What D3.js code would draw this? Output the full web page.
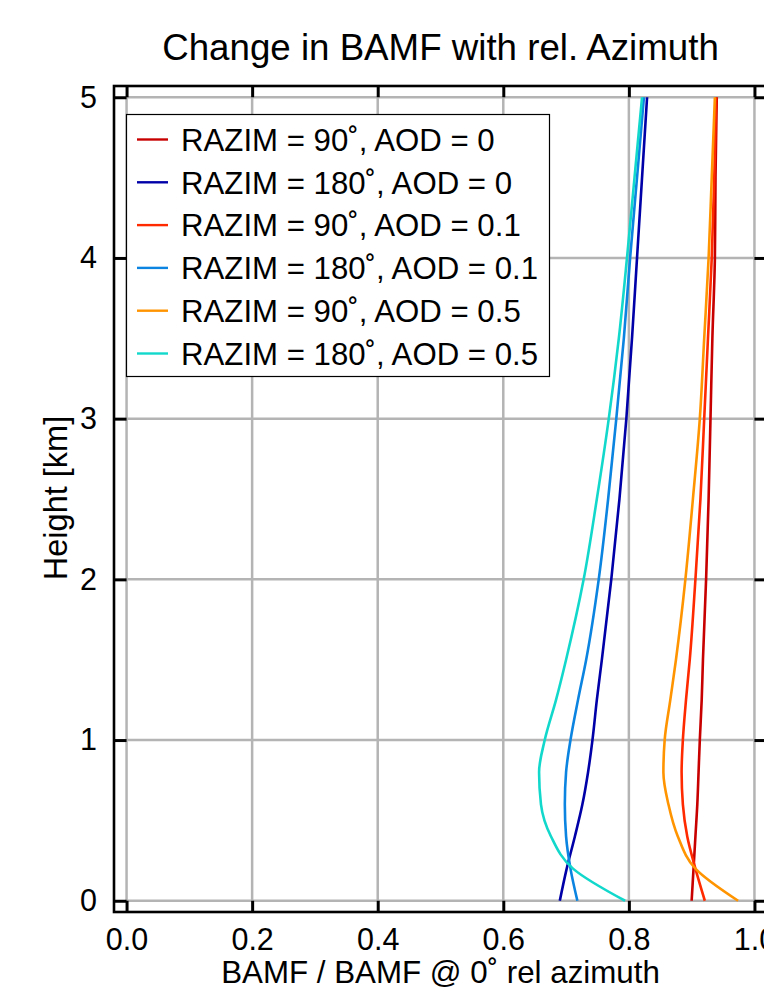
<!DOCTYPE html>
<html>
<head>
<meta charset="utf-8">
<script src="https://cdn.jsdelivr.net/npm/d3@7"></script>
<style>
  body { margin: 0; background: #fff; }
  text { font-family: "Liberation Sans", Arial, Helvetica, sans-serif; fill: #000; }
</style>
</head>
<body>
<div id="chart"></div>
<script>
// heights [km] shared by all profiles
var heights = [0, 0.2, 0.4, 0.6, 0.8, 1.0, 1.25, 1.5, 2, 2.5, 3, 3.5, 4, 4.5, 5];

// BAMF ratio vs 0 deg rel. azimuth
var razim90aod0   = [0.900, 0.903, 0.906, 0.909, 0.911, 0.913, 0.916, 0.918, 0.923, 0.927, 0.930, 0.933, 0.937, 0.938, 0.940];
var razim180aod0  = [0.690, 0.701, 0.714, 0.726, 0.735, 0.742, 0.749, 0.757, 0.772, 0.785, 0.796, 0.805, 0.813, 0.821, 0.829];
var razim90aod01  = [0.921, 0.906, 0.893, 0.886, 0.884, 0.886, 0.891, 0.897, 0.906, 0.914, 0.920, 0.926, 0.932, 0.936, 0.939];
var razim180aod01 = [0.718, 0.707, 0.700, 0.698, 0.700, 0.707, 0.719, 0.732, 0.752, 0.767, 0.780, 0.792, 0.802, 0.813, 0.824];
var razim90aod05  = [0.974, 0.906, 0.878, 0.863, 0.855, 0.857, 0.866, 0.875, 0.890, 0.902, 0.913, 0.920, 0.927, 0.932, 0.937];
var razim180aod05 = [0.794, 0.711, 0.676, 0.660, 0.657, 0.666, 0.684, 0.700, 0.728, 0.749, 0.768, 0.784, 0.797, 0.809, 0.821];

var seriesNames = ["RAZIM = 90˚, AOD = 0", "RAZIM = 180˚, AOD = 0",
                   "RAZIM = 90˚, AOD = 0.1", "RAZIM = 180˚, AOD = 0.1",
                   "RAZIM = 90˚, AOD = 0.5", "RAZIM = 180˚, AOD = 0.5"];
var seriesColors = ["#c80000", "#0000a8", "#ff2a00", "#0a84e0", "#ff9400", "#12d8cc"];
var seriesValues = [razim90aod0, razim180aod0, razim90aod01, razim180aod01, razim90aod05, razim180aod05];

var xTicks = [0, 0.2, 0.4, 0.6, 0.8, 1.0];
var yTicks = [0, 1, 2, 3, 4, 5];

var svg = d3.select("#chart").append("svg")
    .attr("width", 764)
    .attr("height", 989);

var frame = {left: 114, top: 86, right: 767, bottom: 912};

var x = d3.scaleLinear().domain([-0.02, 1.02]).range([frame.left, frame.right]),
    y = d3.scaleLinear().domain([-0.07, 5.07]).range([frame.bottom, frame.top]);

// grid
var grid = svg.append("g").attr("class", "grid")
    .attr("stroke", "#b4b4b4").attr("stroke-width", 2.5);
grid.selectAll("line.v").data(xTicks).enter().append("line")
    .attr("x1", function(d) { return x(d); }).attr("x2", function(d) { return x(d); })
    .attr("y1", y(0)).attr("y2", y(5));
grid.selectAll("line.h").data(yTicks).enter().append("line")
    .attr("y1", function(d) { return y(d); }).attr("y2", function(d) { return y(d); })
    .attr("x1", x(0)).attr("x2", x(1));

// profiles
var line = d3.line()
    .curve(d3.curveMonotoneY)
    .x(function(d) { return x(d[0]); })
    .y(function(d) { return y(d[1]); });

svg.append("g").attr("class", "profiles")
  .selectAll("path").data(seriesValues).enter().append("path")
    .attr("fill", "none")
    .attr("stroke", function(d, i) { return seriesColors[i]; })
    .attr("stroke-width", 2.6)
    .attr("stroke-linejoin", "round")
    .attr("d", function(vals) {
      return line(vals.map(function(v, j) { return [v, heights[j]]; }));
    });

// axes (ticks pointing inward)
function styleAxis(g) {
  g.select(".domain").remove();
  g.selectAll(".tick line").attr("stroke", "#000").attr("stroke-width", 3);
  g.selectAll(".tick text").style("font-size", "30.5px").attr("fill", "#000");
}

svg.append("g")
    .attr("transform", "translate(0," + frame.bottom + ")")
    .call(d3.axisBottom(x).tickValues(xTicks).tickFormat(d3.format(".1f"))
      .tickSizeInner(-(frame.bottom - y(0))).tickSizeOuter(0).tickPadding(16))
    .call(styleAxis);

svg.append("g")
    .attr("transform", "translate(0," + frame.top + ")")
    .call(d3.axisTop(x).tickValues(xTicks).tickFormat("")
      .tickSizeInner(-(y(5) - frame.top)).tickSizeOuter(0))
    .call(styleAxis);

svg.append("g")
    .attr("transform", "translate(" + frame.left + ",0)")
    .call(d3.axisLeft(y).tickValues(yTicks).tickFormat(d3.format("d"))
      .tickSizeInner(-(x(0) - frame.left)).tickSizeOuter(0).tickPadding(17))
    .call(styleAxis);

svg.append("g")
    .attr("transform", "translate(" + frame.right + ",0)")
    .call(d3.axisRight(y).tickValues(yTicks).tickFormat("")
      .tickSizeInner(-(frame.right - x(1))).tickSizeOuter(0))
    .call(styleAxis);

svg.append("rect")
    .attr("x", frame.left).attr("y", frame.top)
    .attr("width", frame.right - frame.left).attr("height", frame.bottom - frame.top)
    .attr("fill", "none").attr("stroke", "#000").attr("stroke-width", 2.6);

// legend
var legend = svg.append("g").attr("class", "legend");
legend.append("rect")
    .attr("x", 126.5).attr("y", 114.5).attr("width", 423).attr("height", 262)
    .attr("fill", "#fff").attr("stroke", "#000").attr("stroke-width", 1.2);
var item = legend.selectAll("g.item").data(seriesNames).enter().append("g")
    .attr("transform", function(d, i) { return "translate(0," + (139.5 + i * 42.8) + ")"; });
item.append("line")
    .attr("x1", 137).attr("x2", 168)
    .attr("stroke", function(d, i) { return seriesColors[i]; })
    .attr("stroke-width", 2.4);
item.append("text")
    .attr("x", 181).attr("dy", "0.36em")
    .style("font-size", "31.2px")
    .text(function(d) { return d; });

// titles
svg.append("text")
    .attr("x", (frame.left + frame.right) / 2).attr("y", 60)
    .attr("text-anchor", "middle")
    .style("font-size", "36.7px")
    .text("Change in BAMF with rel. Azimuth");

svg.append("text")
    .attr("x", (frame.left + frame.right) / 2).attr("y", 983)
    .attr("text-anchor", "middle")
    .style("font-size", "31.3px")
    .text("BAMF / BAMF @ 0˚ rel azimuth");

svg.append("text")
    .attr("transform", "translate(67," + 498 + ") rotate(-90)")
    .attr("text-anchor", "middle")
    .style("font-size", "32.5px")
    .text("Height [km]");
</script>
</body>
</html>
